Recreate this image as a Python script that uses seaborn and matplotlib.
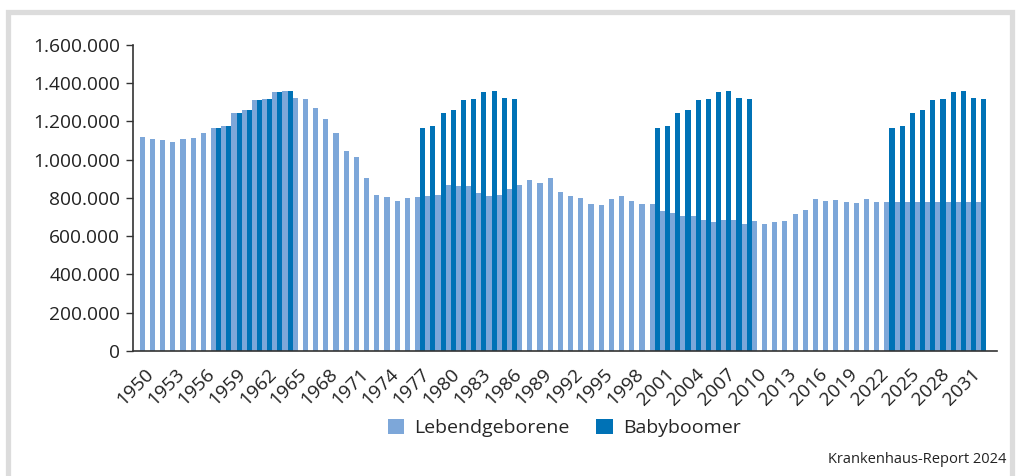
import matplotlib

matplotlib.use("Agg")
import matplotlib.pyplot as plt
import pandas as pd
import seaborn as sns
from matplotlib.patches import Rectangle
from matplotlib.ticker import FuncFormatter

# live births per year (thousands), 1950-2032
years = list(range(1950, 2033))
births = [
    1117, 1106, 1105, 1095, 1110, 1113, 1138, 1166, 1176, 1244,
    1262, 1314, 1317, 1355, 1357, 1325, 1318, 1272, 1215, 1142,
    1048, 1013, 902, 816, 806, 782, 798, 805, 809, 817,
    866, 862, 861, 828, 812, 814, 848, 868, 893, 880,
    906, 830, 809, 798, 770, 765, 796, 812, 785, 771,
    767, 734, 719, 707, 706, 686, 673, 685, 683, 665,
    678, 663, 674, 682, 715, 738, 792, 785, 788, 778,
    773, 795, 779, 779, 779, 779, 779, 779, 779, 779,
    779, 779, 779,
]

# baby boomer cohort (thousands), shown at four points in time
boomer_values = [1166, 1176, 1244, 1262, 1314, 1317, 1355, 1357, 1325, 1318]
boomer_years_1 = list(range(1957, 1965))
boomer_years_2 = list(range(1977, 1987))
boomer_years_3 = list(range(2000, 2010))
boomer_years_4 = list(range(2023, 2033))

series_names = ["Lebendgeborene", "Babyboomer"]
colors = ["#7DA7D9", "#0072B6"]


def main():
    sns.set_theme(style="white")
    plt.rcParams["font.family"] = ["Open Sans", "DejaVu Sans"]

    rows = [(y, series_names[0], v * 1000) for y, v in zip(years, births)]
    for yrs in (boomer_years_1, boomer_years_2, boomer_years_3, boomer_years_4):
        rows += [(y, series_names[1], v * 1000) for y, v in zip(yrs, boomer_values)]
    df = pd.DataFrame(rows, columns=["year", "series", "value"])

    fig = plt.figure(figsize=(10.2, 4.76), dpi=100)
    ax = fig.add_axes([0.130, 0.2626, 0.847, 0.643])

    sns.barplot(
        data=df, x="year", y="value", hue="series", hue_order=series_names,
        order=years, palette=colors, width=1.0, errorbar=None,
        saturation=1, linewidth=0, ax=ax,
    )

    ax.set_xlim(-1.19, 83.5)
    ax.set_ylim(0, 1_600_000)
    ax.set_yticks(range(0, 1_600_001, 200_000))
    ax.yaxis.set_major_formatter(
        FuncFormatter(lambda v, _: f"{int(v):,}".replace(",", "."))
    )
    tick_idx = list(range(0, len(years), 3))
    ax.set_xticks(tick_idx)
    ax.set_xticklabels(
        [str(years[i]) for i in tick_idx], rotation=45, ha="right",
        rotation_mode="anchor",
    )
    ax.tick_params(axis="y", left=True, length=5, width=1, color="#333333",
                   labelsize=13.8, pad=4, labelcolor="#222222")
    ax.tick_params(axis="x", bottom=False, labelsize=13.8, pad=4,
                   labelcolor="#222222")
    ax.set_xlabel("")
    ax.set_ylabel("")
    for side in ("top", "right"):
        ax.spines[side].set_visible(False)
    for side in ("left", "bottom"):
        ax.spines[side].set_color("#333333")
        ax.spines[side].set_linewidth(1.2)

    handles, labels = ax.get_legend_handles_labels()
    ax.get_legend().remove()
    fig.legend(
        handles, labels, loc="center", bbox_to_anchor=(0.553, 0.101),
        ncol=2, frameon=False, fontsize=14, handlelength=0.85,
        handleheight=0.85, columnspacing=1.4, handletextpad=0.5,
    )

    fig.text(0.987, 0.034, "Krankenhaus-Report 2024", ha="right",
             va="center", fontsize=10.5, color="#222222")

    fig.patches.append(
        Rectangle((0.0074, -0.05), 0.985, 1.024, transform=fig.transFigure,
                  fill=False, edgecolor="#DCDCDC", linewidth=3.8)
    )

    fig.savefig("out.png", dpi=100)
    plt.close(fig)


if __name__ == "__main__":
    main()
